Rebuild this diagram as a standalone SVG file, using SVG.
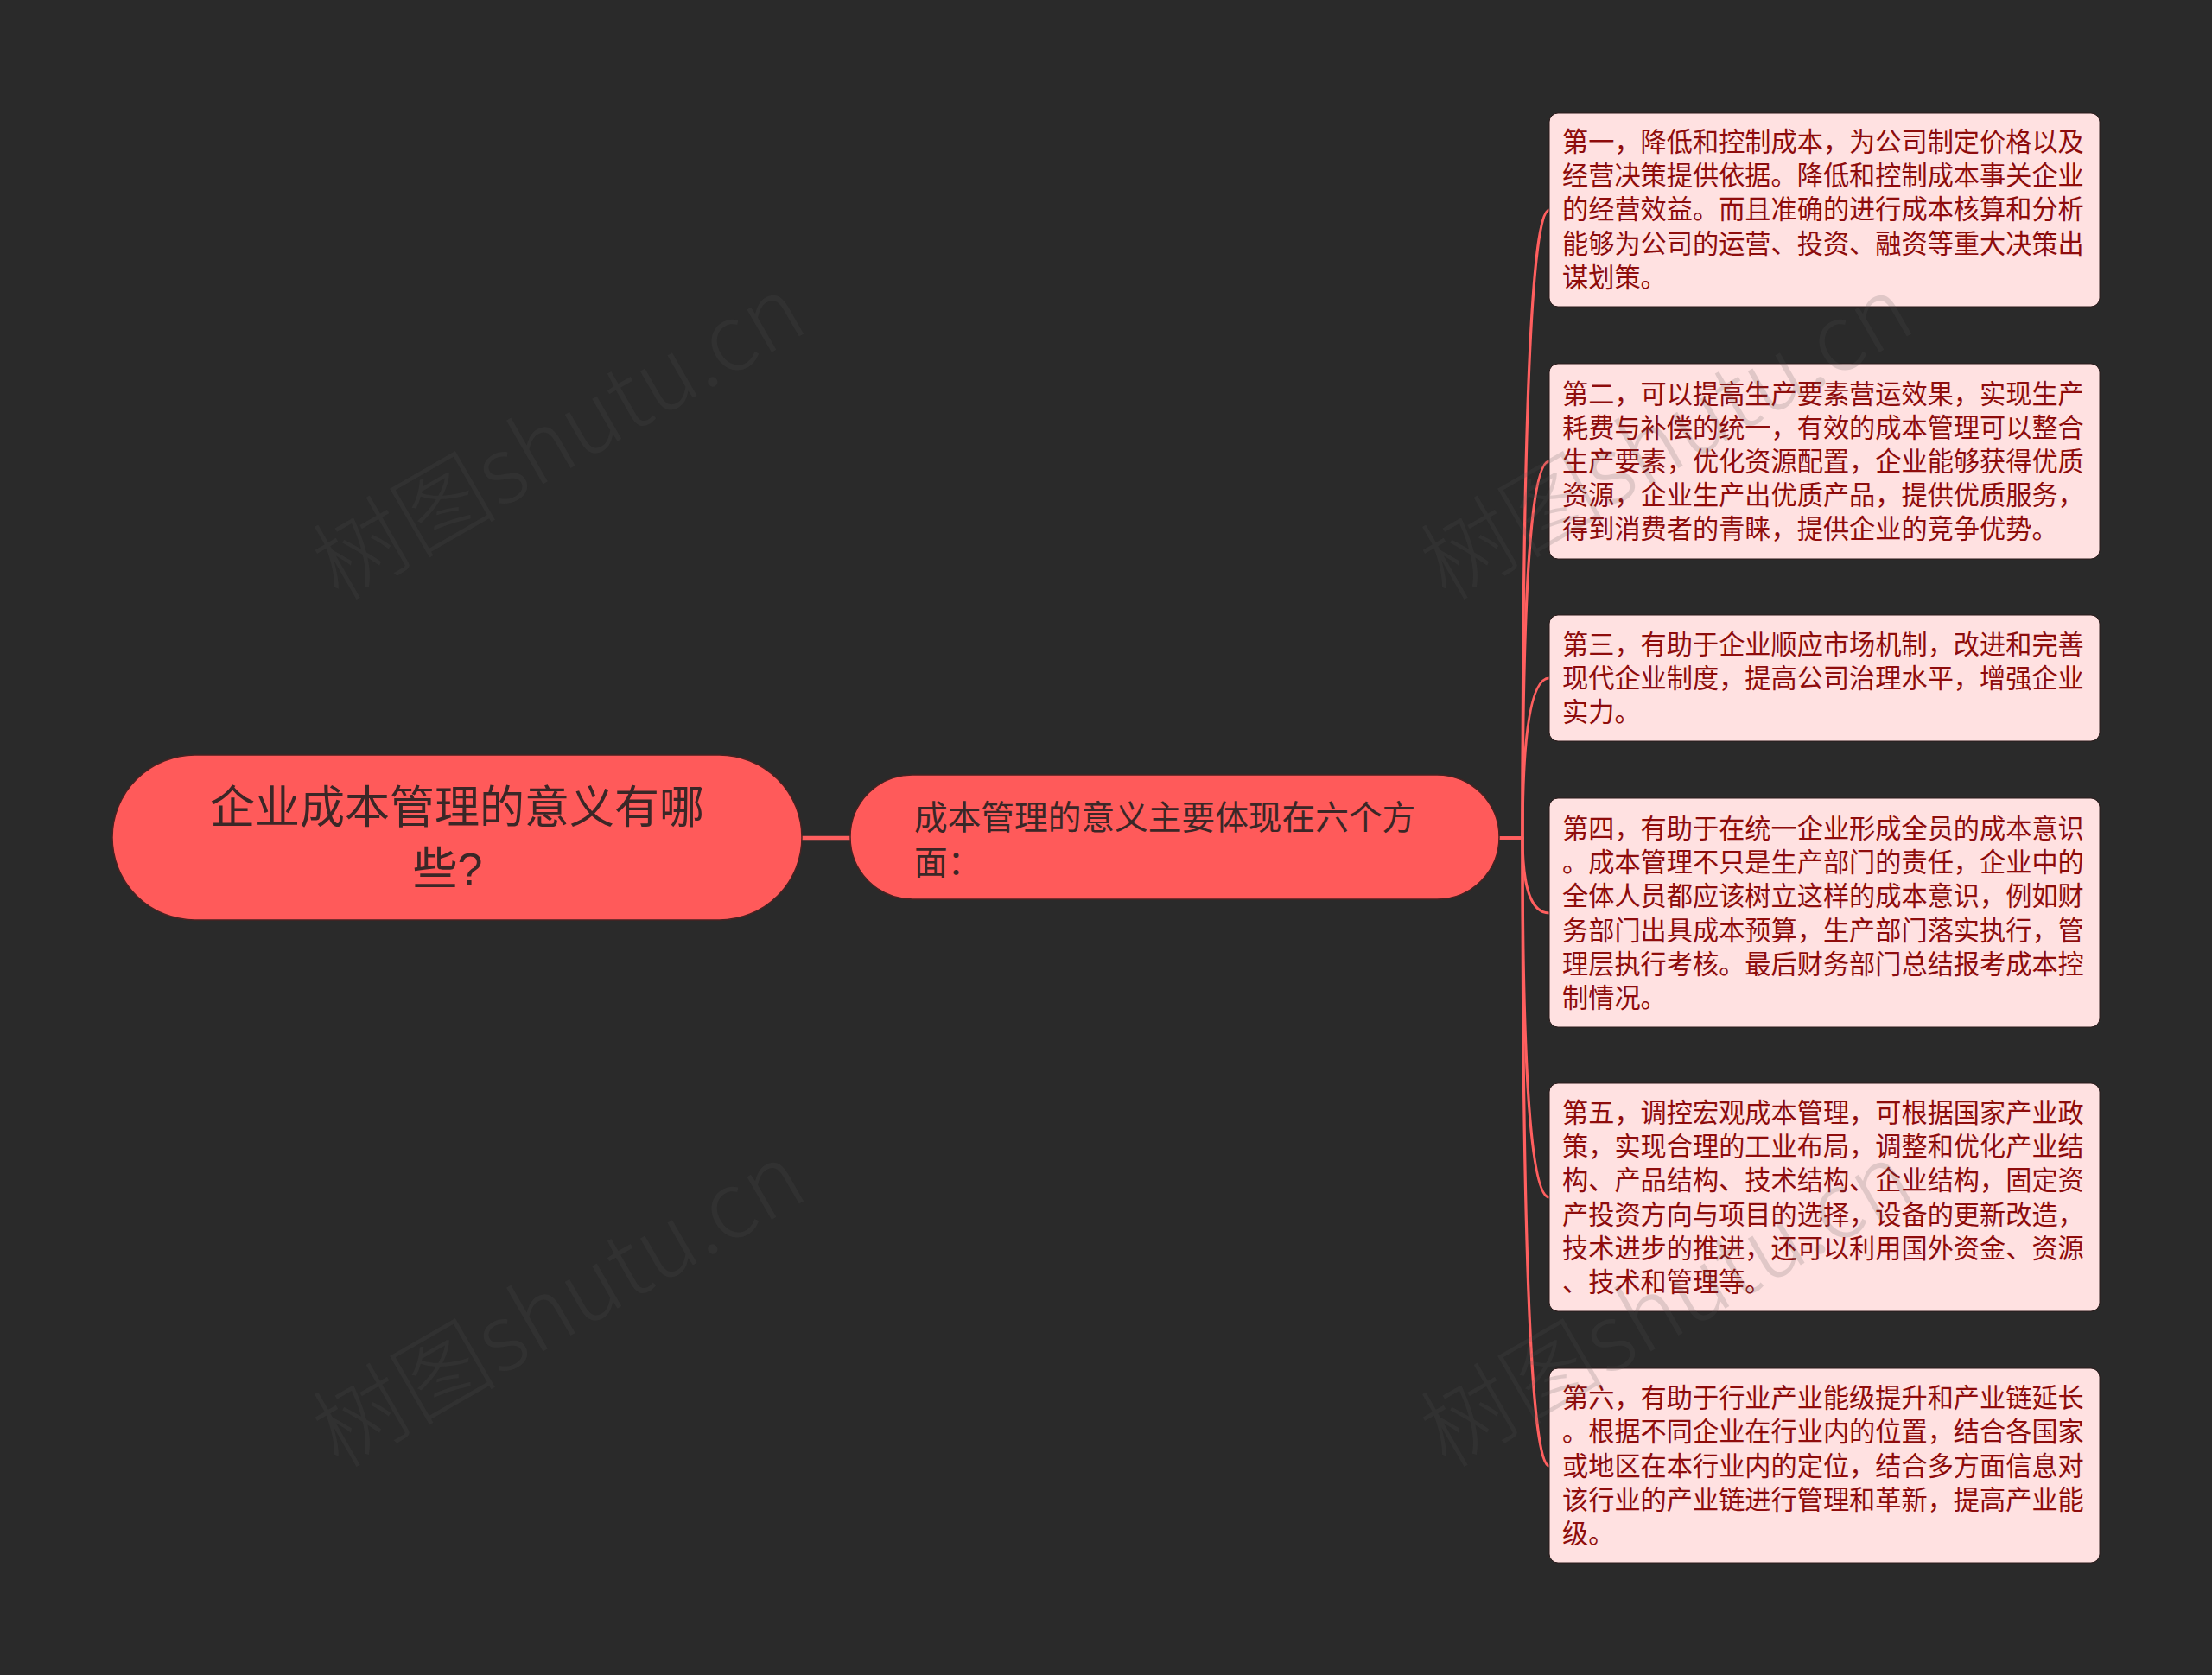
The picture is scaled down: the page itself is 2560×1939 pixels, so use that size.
<svg xmlns="http://www.w3.org/2000/svg" width="2560" height="1939" viewBox="0 0 2560 1939">
<style>
.bg{fill:#2a2a2a}
.conn{fill:none;stroke:#ff5f5f;stroke-width:3.2}
.root{fill:#ff5a5a;stroke:#4a2222;stroke-width:1.5}
.rootTxt{font-family:"Liberation Sans","Noto Sans CJK SC",sans-serif;font-size:52px;fill:#3b2727;text-anchor:middle}
.midTxt{font-family:"Liberation Sans","Noto Sans CJK SC",sans-serif;font-size:38.7px;fill:#3b2727}
.leaf{fill:#ffe1e1;stroke:#2a1a1a;stroke-width:1}
.leafTxt{font-family:"Liberation Sans","Noto Sans CJK SC",sans-serif;font-size:30.2px;fill:#8e0c0c}
.wm{font-family:"Noto Sans CJK SC",sans-serif;font-size:107px;font-weight:300;fill:#555555;fill-opacity:0.18}
</style>
<rect class="bg" x="0" y="0" width="2560" height="1939"/>
<g id="connectors">
<path class="conn" d="M928 970 H984" style="stroke-width:4.5"/>
<path class="conn" d="M1735 970 H1762 Q1762 243 1793 243"/>
<path class="conn" d="M1735 970 H1762 Q1762 534 1793 534"/>
<path class="conn" d="M1735 970 H1762 Q1762 785 1793 785"/>
<path class="conn" d="M1735 970 H1762 Q1762 1057 1793 1057"/>
<path class="conn" d="M1735 970 H1762 Q1762 1386 1793 1386"/>
<path class="conn" d="M1735 970 H1762 Q1762 1697 1793 1697"/>
</g>
<g id="root">
<rect class="root" x="130" y="874" width="798" height="191" rx="95.5" ry="95.5"/>
<text class="rootTxt" x="529" y="953">企业成本管理的意义有哪</text>
<text class="rootTxt" x="518" y="1024">些?</text>
</g>
<g id="middle">
<rect class="root" x="984" y="897" width="751" height="144" rx="72" ry="72"/>
<text class="midTxt" x="1058" y="960">成本管理的意义主要体现在六个方</text>
<text class="midTxt" x="1058" y="1012">面：</text>
</g>
<g id="leaf1">
<rect class="leaf" x="1793" y="131" width="637" height="224" rx="10" ry="10"/>
<text class="leafTxt" x="1808" y="175">第一，降低和控制成本，为公司制定价格以及</text>
<text class="leafTxt" x="1808" y="214.2">经营决策提供依据。降低和控制成本事关企业</text>
<text class="leafTxt" x="1808" y="253.4">的经营效益。而且准确的进行成本核算和分析</text>
<text class="leafTxt" x="1808" y="292.6">能够为公司的运营、投资、融资等重大决策出</text>
<text class="leafTxt" x="1808" y="331.8">谋划策。</text>
</g>
<g id="leaf2">
<rect class="leaf" x="1793" y="421" width="637" height="226" rx="10" ry="10"/>
<text class="leafTxt" x="1808" y="466.6">第二，可以提高生产要素营运效果，实现生产</text>
<text class="leafTxt" x="1808" y="505.8">耗费与补偿的统一，有效的成本管理可以整合</text>
<text class="leafTxt" x="1808" y="545">生产要素，优化资源配置，企业能够获得优质</text>
<text class="leafTxt" x="1808" y="584.2">资源，企业生产出优质产品，提供优质服务，</text>
<text class="leafTxt" x="1808" y="623.4">得到消费者的青睐，提供企业的竞争优势。</text>
</g>
<g id="leaf3">
<rect class="leaf" x="1793" y="712" width="637" height="146" rx="10" ry="10"/>
<text class="leafTxt" x="1808" y="756.8">第三，有助于企业顺应市场机制，改进和完善</text>
<text class="leafTxt" x="1808" y="796">现代企业制度，提高公司治理水平，增强企业</text>
<text class="leafTxt" x="1808" y="835.2">实力。</text>
</g>
<g id="leaf4">
<rect class="leaf" x="1793" y="924" width="637" height="265" rx="10" ry="10"/>
<text class="leafTxt" x="1808" y="970">第四，有助于在统一企业形成全员的成本意识</text>
<text class="leafTxt" x="1808" y="1009.2">。成本管理不只是生产部门的责任，企业中的</text>
<text class="leafTxt" x="1808" y="1048.4">全体人员都应该树立这样的成本意识，例如财</text>
<text class="leafTxt" x="1808" y="1087.6">务部门出具成本预算，生产部门落实执行，管</text>
<text class="leafTxt" x="1808" y="1126.8">理层执行考核。最后财务部门总结报考成本控</text>
<text class="leafTxt" x="1808" y="1166">制情况。</text>
</g>
<g id="leaf5">
<rect class="leaf" x="1793" y="1254" width="637" height="264" rx="10" ry="10"/>
<text class="leafTxt" x="1808" y="1299">第五，调控宏观成本管理，可根据国家产业政</text>
<text class="leafTxt" x="1808" y="1338.2">策，实现合理的工业布局，调整和优化产业结</text>
<text class="leafTxt" x="1808" y="1377.4">构、产品结构、技术结构、企业结构，固定资</text>
<text class="leafTxt" x="1808" y="1416.6">产投资方向与项目的选择，设备的更新改造，</text>
<text class="leafTxt" x="1808" y="1455.8">技术进步的推进，还可以利用国外资金、资源</text>
<text class="leafTxt" x="1808" y="1495">、技术和管理等。</text>
</g>
<g id="leaf6">
<rect class="leaf" x="1793" y="1584" width="637" height="225" rx="10" ry="10"/>
<text class="leafTxt" x="1808" y="1629.2">第六，有助于行业产业能级提升和产业链延长</text>
<text class="leafTxt" x="1808" y="1668.4">。根据不同企业在行业内的位置，结合各国家</text>
<text class="leafTxt" x="1808" y="1707.6">或地区在本行业内的定位，结合多方面信息对</text>
<text class="leafTxt" x="1808" y="1746.8">该行业的产业链进行管理和革新，提高产业能</text>
<text class="leafTxt" x="1808" y="1786">级。</text>
</g>
<g id="watermarks">
<text class="wm" x="392" y="697" transform="rotate(-30 392 697)">树图shutu.cn</text>
<text class="wm" x="1674" y="697" transform="rotate(-30 1674 697)">树图shutu.cn</text>
<text class="wm" x="392" y="1701" transform="rotate(-30 392 1701)">树图shutu.cn</text>
<text class="wm" x="1674" y="1701" transform="rotate(-30 1674 1701)">树图shutu.cn</text>
</g>
</svg>
